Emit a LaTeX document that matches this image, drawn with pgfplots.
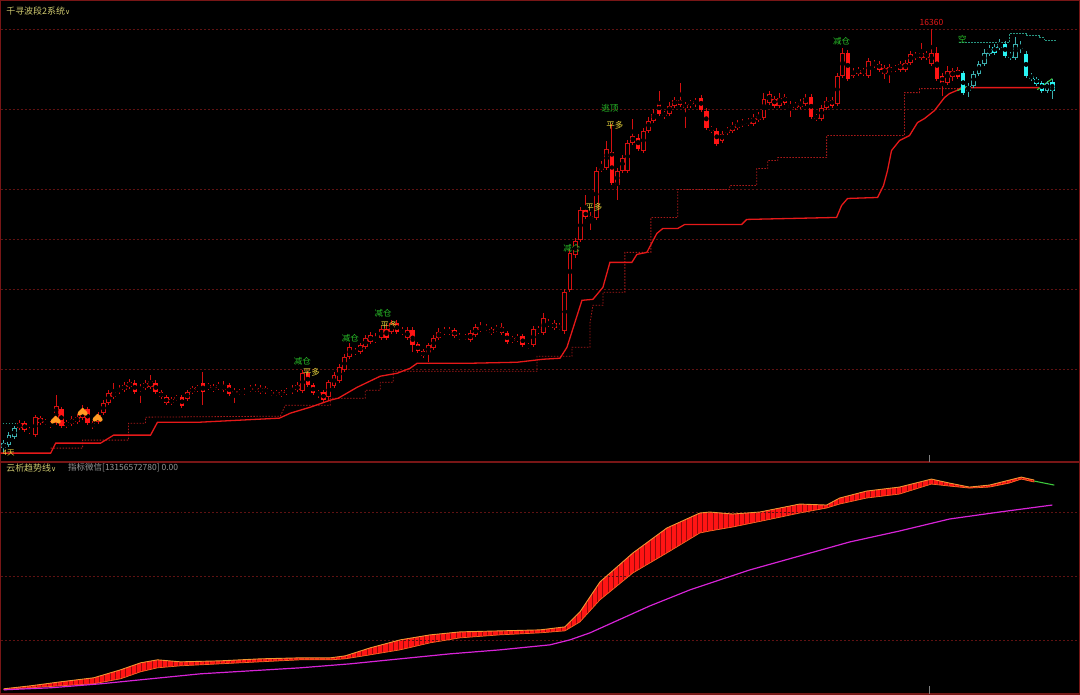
\documentclass[border=0pt]{standalone}
\usepackage{fontspec}
\usepackage{pgfplots}
\usepackage{pgfplotstable}
\pgfplotsset{compat=1.18}
\usepgfplotslibrary{fillbetween}
\usetikzlibrary{patterns.meta}
\newfontfamily\cjk{Noto Sans CJK SC}
\newfontfamily\djv{DejaVu Sans}

\definecolor{framec}{RGB}{120,22,22}
\definecolor{gridc}{RGB}{95,18,18}
\definecolor{hollowred}{RGB}{212,16,16}
\definecolor{fillred}{RGB}{255,20,20}
\definecolor{cyanhollow}{RGB}{60,175,175}
\definecolor{cyanfill}{RGB}{40,245,245}
\definecolor{lineR}{RGB}{230,25,25}
\definecolor{stopR}{RGB}{170,25,25}
\definecolor{tealc}{RGB}{40,150,130}
\definecolor{sig}{RGB}{40,190,40}
\definecolor{yel}{RGB}{235,215,60}
\definecolor{ttl}{RGB}{205,200,110}
\definecolor{graytxt}{RGB}{150,150,150}
\definecolor{magen}{RGB}{215,35,215}
\definecolor{bandedge}{RGB}{240,150,50}
\definecolor{stripe}{RGB}{150,10,10}
\definecolor{spadeor}{RGB}{255,155,35}
\definecolor{greenend}{RGB}{60,200,60}

% spade-like signal mark
\pgfdeclareplotmark{spade}{%
  \pgfpathmoveto{\pgfpoint{0pt}{4.5pt}}
  \pgfpathcurveto{\pgfpoint{1.5pt}{2.5pt}}{\pgfpoint{5pt}{1pt}}{\pgfpoint{5pt}{-1.5pt}}
  \pgfpathcurveto{\pgfpoint{5pt}{-4pt}}{\pgfpoint{1.5pt}{-4pt}}{\pgfpoint{0pt}{-2pt}}
  \pgfpathcurveto{\pgfpoint{-1.5pt}{-4pt}}{\pgfpoint{-5pt}{-4pt}}{\pgfpoint{-5pt}{-1.5pt}}
  \pgfpathcurveto{\pgfpoint{-5pt}{1pt}}{\pgfpoint{-1.5pt}{2.5pt}}{\pgfpoint{0pt}{4.5pt}}
  \pgfpathclose
  \pgfusepathqfill}

% candles, price axis in screen units (smaller = higher), O H L C
\pgfplotstableread{
O H L C
448 440 452 443
445 432 447 435
437 426 439 428
}\cyanA

\pgfplotstableread{
O H L C
428 420 430 423
423 421 432 430
429 427 434 432
435 415 437 417
418 416 425 423
421 419 425 423
423 421 428 426
423 395 425 406
409 407 428 426
426 420 428 422
424 416 426 419
422 414 424 417
418 405 420 410
409 407 425 423
423 421 429 427
422 412 424 415
413 400 415 403
403 390 405 393
397 383 399 392
392 385 394 388
390 382 392 385
387 379 389 382
383 380 394 392
390 384 403 387
388 380 390 383
387 375 389 381
383 380 394 392
392 390 399 397
397 395 405 403
403 397 405 399
397 395 401 399
397 395 408 406
399 390 401 392
392 386 394 388
390 385 392 387
383 372 405 392
388 383 390 385
390 384 392 387
388 382 390 385
390 381 392 385
385 383 396 394
393 388 403 391
391 389 395 393
393 388 395 391
390 385 392 388
390 384 392 388
392 385 394 388
388 386 394 392
394 390 396 392
392 390 396 394
392 390 397 395
393 388 395 390
392 385 394 388
390 382 392 385
391 370 393 373
373 371 387 385
385 383 395 393
394 390 398 392
392 390 402 400
397 380 400 382
386 372 388 375
381 364 383 367
370 354 372 357
357 343 359 347
350 348 355 353
352 343 354 345
347 335 349 338
342 332 344 335
341 333 343 338
338 326 340 329
329 324 340 338
332 320 334 323
323 320 334 332
330 327 335 333
338 327 340 330
330 327 352 345
344 342 353 351
351 349 358 356
353 343 362 345
348 335 350 338
338 328 340 332
330 327 335 333
333 327 335 330
330 328 338 336
336 333 340 338
336 334 340 338
340 330 342 333
335 324 337 327
330 322 332 327
327 324 331 329
329 327 335 333
330 325 332 328
327 323 335 333
333 331 344 342
341 336 343 338
340 334 342 337
336 334 347 345
345 343 349 347
345 326 347 329
332 326 334 329
333 313 335 318
322 319 327 325
323 320 330 328
328 323 330 326
331 289 334 292
290 249 292 253
255 238 258 241
240 207 242 210
210 195 219 217
216 212 230 219
218 166 220 170
169 160 171 167
167 140 169 148
151 123 185 183
185 167 200 170
170 154 172 157
170 139 172 142
142 118 144 135
137 133 150 148
150 127 152 130
130 116 132 120
120 108 122 113
102 90 115 113
113 110 118 115
113 101 115 105
105 96 107 99
99 82 106 104
104 101 127 107
102 99 107 104
103 97 106 100
97 94 111 109
110 107 129 127
128 125 132 130
130 127 145 143
140 130 142 133
132 126 134 129
130 121 132 125
127 119 129 123
124 118 126 122
123 117 125 121
123 113 125 117
119 111 121 115
117 92 119 98
102 90 104 93
98 95 107 105
105 92 107 97
96 93 104 102
104 100 116 107
104 101 109 107
106 98 108 102
103 93 105 97
96 93 118 116
116 113 120 118
118 104 120 107
107 96 109 100
99 96 107 105
103 72 105 75
75 47 77 52
52 49 80 78
75 67 77 70
69 66 75 73
73 67 75 70
75 57 77 60
65 59 67 62
63 60 71 69
73 64 78 67
72 63 82 66
67 64 71 69
69 60 71 63
69 59 71 62
62 50 64 53
54 51 59 57
57 42 59 52
57 50 59 53
63 28 65 52
52 46 80 78
75 72 95 82
82 65 84 70
76 67 80 70
69 66 78 76
}\redT

\pgfplotstableread{
O H L C
72 70 94 92
90 82 96 85
85 70 87 73
73 60 75 63
63 48 65 52
53 44 55 48
46 43 54 52
47 38 49 43
43 40 57 55
54 51 59 57
57 36 59 43
45 40 52 48
53 50 77 75
75 72 80 78
78 76 85 83
82 80 92 90
90 80 92 82
81 78 98 90
}\cyanB

\pgfplotsset{
  cnd/.style 2 args={only marks, mark=none, forget plot,
    error bars/.cd, y dir=both, y explicit, error mark=none,
    error bar style={line width=#2, color=#1, line cap=butt}},
  grd/.style={gridc, line width=0.7pt, dash pattern=on 2pt off 2pt, forget plot},
}

% one candle set: #1 table, #2 first index, #3 wick/outline colour, #4 body colour
\newcommand{\candles}[4]{%
  \addplot[cnd={#3}{1pt}] table[x expr=3+5.25*(\coordindex+#2),
    y expr=(\thisrow{H}+\thisrow{L})/2,
    y error expr=(\thisrow{L}-\thisrow{H})/2] {#1};
  \addplot[restrict expr to domain={\thisrow{C}-\thisrow{O}}{0.5:1000}, cnd={#4}{4.6pt}]
    table[x expr=3+5.25*(\coordindex+#2),
    y expr=(\thisrow{O}+\thisrow{C})/2,
    y error expr={max((\thisrow{C}-\thisrow{O})/2,0.6)}] {#1};
  \addplot[restrict expr to domain={\thisrow{O}-\thisrow{C}}{0:1000}, cnd={#3}{4.8pt}]
    table[x expr=3+5.25*(\coordindex+#2),
    y expr=(\thisrow{O}+\thisrow{C})/2,
    y error expr={max((\thisrow{O}-\thisrow{C})/2,0.6)}] {#1};
  \addplot[restrict expr to domain={\thisrow{O}-\thisrow{C}}{2.1:1000}, cnd={black}{2.8pt}]
    table[x expr=3+5.25*(\coordindex+#2),
    y expr=(\thisrow{O}+\thisrow{C})/2,
    y error expr={(\thisrow{O}-\thisrow{C})/2-1}] {#1};
}

\begin{document}
\begin{tikzpicture}
\begin{axis}[
  scale only axis, width=1080pt, height=694pt,
  xmin=0, xmax=1080, ymin=0, ymax=694, y dir=reverse,
  axis background/.style={fill=black},
  axis line style={framec, line width=1.5pt},
  xtick=\empty, ytick=\empty,
]

% grid lines and panel divider
\addplot[grd] coordinates {(0,29)(1080,29)};
\addplot[grd] coordinates {(0,109)(1080,109)};
\addplot[grd] coordinates {(0,189)(1080,189)};
\addplot[grd] coordinates {(0,239)(1080,239)};
\addplot[grd] coordinates {(0,289)(1080,289)};
\addplot[grd] coordinates {(0,369)(1080,369)};
\addplot[grd] coordinates {(0,512)(1080,512)};
\addplot[grd] coordinates {(0,576)(1080,576)};
\addplot[grd] coordinates {(0,640)(1080,640)};
\addplot[framec, line width=1.5pt] coordinates {(0,462)(1080,462)};

% ---- upper panel ----
\addplot[stopR, line width=0.8pt, dash pattern=on 1.5pt off 1.5pt] coordinates {
(50,448)(82,448)(82,440)(128,440)(128,423)(145,423)(145,417)(280,416)(285,405)
(330,405)(330,398)(365,398)(365,390)(380,390)(380,382)(393,382)(393,371)(537,371)
(537,356)(572,356)(572,347)(590,347)(590,323)(593,305)(603,305)(603,292)(625,292)
(625,252)(651,252)(651,217)(678,217)(678,189)(730,189)(730,185)(757,185)(757,168)
(768,168)(768,160)(778,160)(778,157)(827,157)(827,135)(905,135)(905,92)(920,92)
(920,88)(960,88)};

\addplot[tealc, line width=0.8pt, dash pattern=on 1.5pt off 1.5pt] coordinates {
(960,42)(1010,42)(1010,33)(1027,33)(1027,35)(1040,35)(1040,37)(1045,37)(1045,40)(1058,40)};
\addplot[tealc, line width=0.8pt, dash pattern=on 1.5pt off 1.5pt] coordinates {(2,423)(17,423)};

\addplot[lineR, line width=1.3pt] coordinates {
(0,453)(50,453)(55,443)(100,443)(113,435)(150,435)(157,422)(200,422)(279,418)
(290,413)(310,407)(330,400)(338,398)(357,387)(380,376)(397,373)(410,368)(417,363)
(470,363)(517,362)(543,359)(560,358)(567,347)(582,300)(593,299)(603,287)(610,262)
(632,262)(637,254)(647,252)(657,233)(663,228)(678,228)(685,224)(742,224)(747,219)
(837,217)(842,205)(848,198)(878,197)(884,185)(888,170)(892,150)(900,140)(910,135)
(918,122)(925,118)(935,110)(945,97)(950,93)(957,90)(962,87)(1040,87)};
\addplot[greenend, line width=1.1pt] coordinates {(958,90)(967,86)};
\addplot[greenend, line width=1.1pt] coordinates {(1038,89)(1053,78)};

\candles{\cyanA}{0}{cyanhollow}{cyanfill}
\candles{\redT}{3}{hollowred}{fillred}
\candles{\cyanB}{183}{cyanhollow}{cyanfill}

\addplot[spadeor, only marks, mark=spade] coordinates {(55,420)(82,412)(97,418)};

\node[text=sig, font=\cjk\fontsize{8.5}{9}\selectfont] at (axis cs:302,361) {减仓};
\node[text=yel, font=\cjk\fontsize{8.5}{9}\selectfont] at (axis cs:311,372) {平多};
\node[text=sig, font=\cjk\fontsize{8.5}{9}\selectfont] at (axis cs:350,338) {减仓};
\node[text=sig, font=\cjk\fontsize{8.5}{9}\selectfont] at (axis cs:383,313) {减仓};
\node[text=yel, font=\cjk\fontsize{8.5}{9}\selectfont] at (axis cs:389,325) {平多};
\node[text=sig, font=\cjk\fontsize{8.5}{9}\selectfont] at (axis cs:572,248) {减仓};
\node[text=yel, font=\cjk\fontsize{8.5}{9}\selectfont] at (axis cs:594,207) {平多};
\node[text=sig, font=\cjk\fontsize{8.5}{9}\selectfont] at (axis cs:610,108) {逃顶};
\node[text=yel, font=\cjk\fontsize{8.5}{9}\selectfont] at (axis cs:615,125) {平多};
\node[text=sig, font=\cjk\fontsize{8.5}{9}\selectfont] at (axis cs:842,41) {减仓};
\node[text=sig, font=\cjk\fontsize{8.5}{9}\selectfont] at (axis cs:963,38) {空};
\node[text=lineR, font=\cjk\fontsize{8.5}{9}\selectfont] at (axis cs:932,22) {16360};
\node[text=yel, font=\cjk\fontsize{7.5}{8}\selectfont] at (axis cs:8,453) {4天};

\node[anchor=west, text=ttl, font=\cjk\fontsize{9}{10}\selectfont] at (axis cs:2,10) {千寻波段2系统{\djv\fontsize{7}{7}\selectfont ∨}};
\node[anchor=west, text=ttl, font=\cjk\fontsize{9}{10}\selectfont] at (axis cs:2,468) {云析趋势线{\djv\fontsize{7}{7}\selectfont ∨}};
\node[anchor=west, text=graytxt, font=\cjk\fontsize{8.5}{10}\selectfont] at (axis cs:64,468) {指标微信[13156572780] 0.00};

\addplot[gray, line width=0.8pt] coordinates {(930,455)(930,462)};
\addplot[gray, line width=0.8pt] coordinates {(930,686)(930,694)};

% ---- lower panel ----
\addplot[name path=bu, draw=none] coordinates {
(3,689)(30,686)(60,682)(93,678)(120,670)(140,663)(157,660)(180,662)(220,661)
(260,659)(300,658)(330,658)(345,656)(370,648)(400,640)(430,635)(460,632)(500,631)
(540,630)(565,627)(580,612)(600,582)(633,553)(667,528)(700,513)(710,512)(733,514)
(760,512)(800,504)(827,505)(840,498)(867,491)(900,487)(932,479)(950,483)
(970,487)(990,485)(1010,480)(1022,477)(1035,480)};
\addplot[name path=bl, draw=none] coordinates {
(3,690)(30,688)(60,686)(93,684)(120,679)(140,672)(157,668)(180,666)(220,664)
(260,662)(300,660)(330,660)(345,659)(370,655)(400,650)(430,643)(460,638)(500,635)
(540,633)(565,631)(580,622)(600,600)(633,573)(667,553)(700,533)(710,531)(733,527)
(767,520)(800,513)(827,508)(840,504)(867,498)(900,494)(932,484)(950,486)
(970,488)(990,487)(1010,483)(1022,479)(1035,482)};
\addplot[fill=fillred] fill between[of=bu and bl];
\addplot[pattern={Lines[angle=90,distance=5.25pt,line width=0.9pt]}, pattern color=stripe]
  fill between[of=bu and bl];
\addplot[bandedge, line width=0.9pt] coordinates {
(3,689)(30,686)(60,682)(93,678)(120,670)(140,663)(157,660)(180,662)(220,661)
(260,659)(300,658)(330,658)(345,656)(370,648)(400,640)(430,635)(460,632)(500,631)
(540,630)(565,627)(580,612)(600,582)(633,553)(667,528)(700,513)(710,512)(733,514)
(760,512)(800,504)(827,505)(840,498)(867,491)(900,487)(932,479)(950,483)
(970,487)(990,485)(1010,480)(1022,477)(1035,480)};
\addplot[bandedge!70!red, line width=0.7pt] coordinates {
(3,690)(30,688)(60,686)(93,684)(120,679)(140,672)(157,668)(180,666)(220,664)
(260,662)(300,660)(330,660)(345,659)(370,655)(400,650)(430,643)(460,638)(500,635)
(540,633)(565,631)(580,622)(600,600)(633,573)(667,553)(700,533)(710,531)(733,527)
(767,520)(800,513)(827,508)(840,504)(867,498)(900,494)(932,484)(950,486)
(970,488)(990,487)(1010,483)(1022,479)(1035,482)};
\addplot[greenend, line width=1.1pt] coordinates {(1035,481)(1045,483)(1055,485)};

\addplot[magen, line width=1.2pt] coordinates {
(3,690)(50,688)(100,684)(150,679)(200,674)(250,671)(300,668)(350,664)(400,659)
(450,654)(500,650)(550,645)(570,640)(590,633)(610,624)(630,615)(650,606)(690,590)
(750,570)(800,556)(850,542)(900,531)(950,519)(1000,512)(1053,505)};

\end{axis}
\end{tikzpicture}
\end{document}
